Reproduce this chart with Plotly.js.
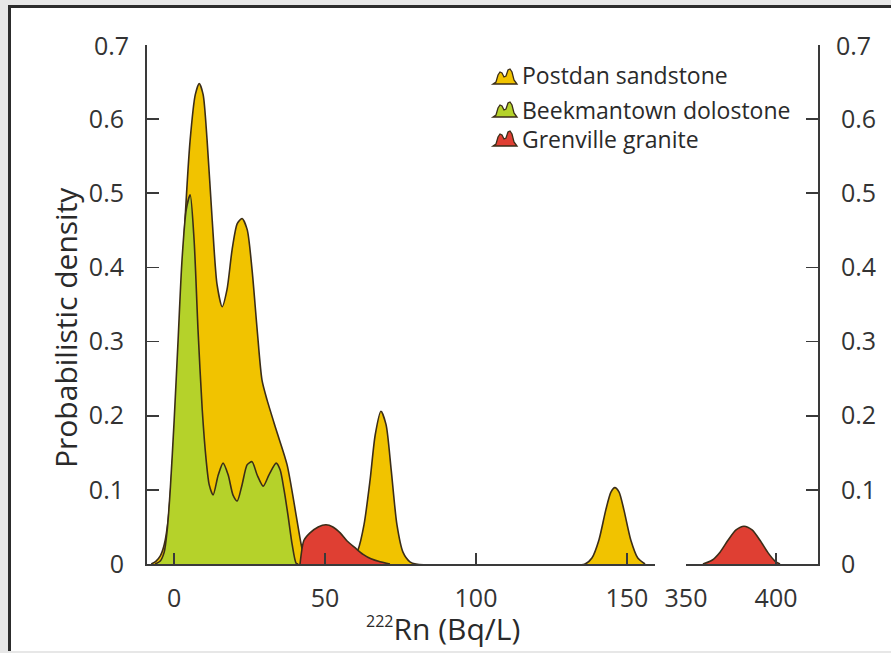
<!DOCTYPE html>
<html>
<head>
<meta charset="utf-8">
<script src="https://cdn.plot.ly/plotly-3.0.1.min.js"></script>
<style>
  html, body { margin: 0; padding: 0; background: #e7e7e7; }
  #frame {
    position: absolute; left: 8px; top: 5px; width: 883px; height: 643px;
    background: #ffffff; border-top: 3px solid #2c2c2c; border-left: 3px solid #2c2c2c;
  }
  #chart { position: absolute; left: 0; top: 0; width: 891px; height: 653px; }
</style>
</head>
<body>
<div id="frame"></div>
<div id="chart"></div>
<script>
// Probabilistic density of 222Rn (Bq/L) by bedrock unit

// Postdan sandstone
const postdanX = [-7.6, -6.0, -4.6, -3.3, -2.0, -0.7, 0.7, 2.0, 3.6, 5.3, 7.0, 8.3, 9.6, 10.9, 12.6, 14.2, 15.9, 17.5, 19.2, 20.9, 22.5, 24.2, 25.8, 27.5, 29.1, 30.8, 33.8, 37.4, 40.4, 42.1, 43.4, 44.7,
  56.6, 58.9, 60.9, 62.9, 64.9, 66.6, 68.5, 70.2, 71.9, 73.8, 75.8, 78.1, 80.1,
  136.1, 138.4, 140.7, 143.0, 144.7, 146.0, 147.4, 149.0, 151.3, 153.6, 156.0];
const postdanY = [0, 0.004, 0.011, 0.026, 0.059, 0.127, 0.221, 0.329, 0.464, 0.572, 0.633, 0.648, 0.633, 0.572, 0.464, 0.377, 0.347, 0.370, 0.424, 0.459, 0.466, 0.451, 0.397, 0.316, 0.248, 0.221, 0.181, 0.134, 0.066, 0.026, 0.004, 0,
  0, 0.005, 0.019, 0.053, 0.113, 0.174, 0.206, 0.188, 0.127, 0.053, 0.016, 0.003, 0,
  0, 0.008, 0.032, 0.073, 0.097, 0.103, 0.097, 0.073, 0.032, 0.008, 0];

// Beekmantown dolostone
const beekX = [-6.3, -4.6, -3.3, -2.3, -1.3, 0, 1.3, 2.6, 4.0, 5.3, 6.6, 7.9, 9.3, 10.6, 11.6, 12.9, 14.6, 16.2, 17.9, 19.5, 20.9, 22.5, 24.2, 25.8, 27.5, 29.5, 31.5, 33.8, 35.1, 36.4, 37.7, 39.1, 40.4, 41.1];
const beekY = [0, 0.004, 0.016, 0.046, 0.100, 0.194, 0.302, 0.410, 0.478, 0.498, 0.437, 0.316, 0.208, 0.140, 0.107, 0.093, 0.120, 0.136, 0.120, 0.093, 0.085, 0.107, 0.134, 0.138, 0.120, 0.105, 0.121, 0.136, 0.127, 0.100, 0.066, 0.026, 0.001, 0];

// Grenville granite, low range
const grenX = [41.7, 43.0, 45.0, 47.7, 50.3, 52.6, 55.0, 57.3, 59.9, 62.6, 65.2, 68.2, 71.5];
const grenY = [0, 0.032, 0.042, 0.050, 0.053, 0.050, 0.042, 0.031, 0.022, 0.013, 0.007, 0.003, 0];
// Grenville granite, high range (after the axis break)
const grenHighX = [359.4, 364.4, 368.9, 373.3, 377.8, 382.2, 386.7, 391.1, 395.6, 399.4, 402.2];
const grenHighY = [0, 0.005, 0.016, 0.032, 0.046, 0.051, 0.046, 0.032, 0.015, 0.004, 0];

const seriesNames = ['Postdan sandstone', 'Beekmantown dolostone', 'Grenville granite'];
const xTicksLow = [0, 50, 100, 150];
const xTicksHigh = [350, 400];
const yTickVals = [0, 0.1, 0.2, 0.3, 0.4, 0.5, 0.6];
const yTickText = ['0', '0.1', '0.2', '0.3', '0.4', '0.5', '0.6'];
const yTopLabel = '0.7';
const yMax = 0.7;

const COLORS = ['#f1c300', '#b5d22a', '#df3f33'];
const EDGE = '#3b2d18';
const AXIS = '#3a3a3a';
const FONT = '"Open Sans", "DejaVu Sans", sans-serif';

// plot area in pixels
const W = 891, H = 653, L = 147, R = 818, T = 45, B = 564;
const px = (x) => (x - L) / (R - L);
const py = (y) => (B - y) / (B - T);

function area(x, y, color, xa, ya) {
  return {
    type: 'scatter', mode: 'lines', x: x, y: y, xaxis: xa, yaxis: ya,
    fill: 'tozeroy', fillcolor: color,
    line: { color: EDGE, width: 1.6, shape: 'spline', smoothing: 0.7 },
    hoverinfo: 'x+y', showlegend: false
  };
}

const traces = [
  Object.assign(area(postdanX, postdanY, COLORS[0], 'x', 'y'), { name: seriesNames[0] }),
  Object.assign(area(beekX, beekY, COLORS[1], 'x', 'y'), { name: seriesNames[1] }),
  Object.assign(area(grenX, grenY, COLORS[2], 'x', 'y'), { name: seriesNames[2] }),
  Object.assign(area(grenHighX, grenHighY, COLORS[2], 'x2', 'y2'), { name: seriesNames[2] })
];

const tickFont = { family: FONT, size: 25, color: '#333333' };
const baseX = {
  showline: true, linecolor: AXIS, linewidth: 2,
  ticks: 'inside', ticklen: 11, tickwidth: 1.8, tickcolor: AXIS,
  tickfont: tickFont, ticklabelstandoff: 11,
  showgrid: false, zeroline: false, fixedrange: true
};
const baseY = {
  range: [0, yMax], domain: [0, 1], showgrid: false, zeroline: false, fixedrange: true,
  showline: true, linecolor: AXIS, linewidth: 2,
  ticks: 'inside', ticklen: 12, tickwidth: 1.8, tickcolor: AXIS,
  tickvals: yTickVals, ticktext: yTickText, tickfont: tickFont, ticklabelstandoff: 16
};

// small two-peak glyphs for the key
function glyph(x0, yb, color) {
  const pts = [[0,0],[3,-2],[5,-9],[7,-12],[9,-11],[11,-7],[13,-8],[15,-14],[17,-15],[19,-12],[21,-4],[24,0]];
  let d = '';
  pts.forEach((p, i) => { d += (i ? ' L' : 'M') + px(x0 + p[0]).toFixed(5) + ',' + py(yb + p[1]).toFixed(5); });
  d += ' Z';
  return { type: 'path', xref: 'paper', yref: 'paper', path: d, fillcolor: color,
           line: { color: EDGE, width: 1.3 } };
}

const keyRows = [75, 110, 139];
const annotations = seriesNames.map((n, i) => ({
  xref: 'paper', yref: 'paper', x: px(520), y: py(keyRows[i]), xanchor: 'left', yanchor: 'middle',
  text: n, showarrow: false, font: { family: FONT, size: 23, color: '#2a2a2a' }
}));
// top value on both y axes (no tick mark there)
annotations.push({
  xref: 'paper', yref: 'y', x: 0, y: yMax, xanchor: 'right', yanchor: 'middle', xshift: -16,
  text: yTopLabel, showarrow: false, font: tickFont
});
annotations.push({
  xref: 'paper', yref: 'y', x: 1, y: yMax, xanchor: 'left', yanchor: 'middle', xshift: 16,
  text: yTopLabel, showarrow: false, font: tickFont
});
annotations.push({
  xref: 'paper', yref: 'paper', x: px(65), y: py(328), xanchor: 'center', yanchor: 'middle',
  text: 'Probabilistic density', textangle: -90, showarrow: false,
  font: { family: FONT, size: 30, color: '#2a2a2a' }
});
annotations.push({
  xref: 'paper', yref: 'paper', x: px(443), y: py(628), xanchor: 'center', yanchor: 'middle',
  text: '<sup><span style="font-size:16px">222</span></sup>Rn (Bq/L)', showarrow: false,
  font: { family: FONT, size: 30, color: '#2a2a2a' }
});

const layout = {
  width: W, height: H,
  margin: { l: L, r: W - R, t: T, b: H - B, pad: 0 },
  paper_bgcolor: 'rgba(0,0,0,0)', plot_bgcolor: 'rgba(0,0,0,0)',
  showlegend: false,
  font: { family: FONT, color: '#333333' },
  xaxis: Object.assign({}, baseX, { domain: [0, px(655)], range: [-9, 159.3], tickvals: xTicksLow, anchor: 'y' }),
  xaxis2: Object.assign({}, baseX, { domain: [px(686), 1], range: [350, 423.3], tickvals: xTicksHigh, anchor: 'y2' }),
  yaxis: Object.assign({}, baseY, { anchor: 'x', side: 'left' }),
  yaxis2: Object.assign({}, baseY, { anchor: 'x2', side: 'right' }),
  shapes: COLORS.map((c, i) => glyph(493, [84, 117, 146][i], c)),
  annotations: annotations
};

Plotly.newPlot('chart', traces, layout, { staticPlot: true, displayModeBar: false });
</script>
</body>
</html>
